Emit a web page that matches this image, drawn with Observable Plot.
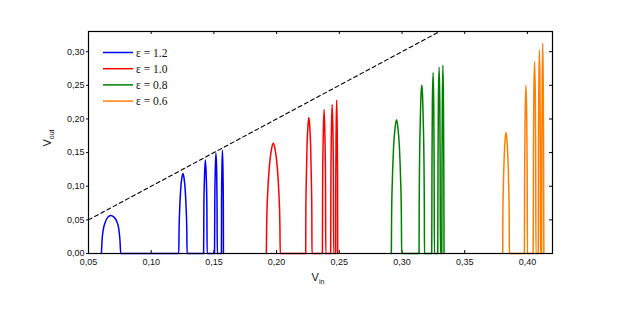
<!DOCTYPE html>
<html><head><meta charset="utf-8">
<script src="https://cdn.jsdelivr.net/npm/d3@7"></script>
<script src="https://cdn.jsdelivr.net/npm/@observablehq/plot@0.6"></script>
<style>body{margin:0;background:#fff} #chart{width:620px;height:310px}</style>
</head><body><div id="chart"></div>
<script>
const seriesLabels = ["ε = 1.2", "ε = 1.0", "ε = 0.8", "ε = 0.6"];
const seriesColors = ["#0000ff", "#ff0000", "#008000", "#ff8000"];

// v_in, v_out pairs
const eps12 = [
  [0.0603,0],[0.0608,0.0194],[0.0617,0.0343],[0.0633,0.0462],[0.0653,0.0537],[0.0677,0.0566],[0.0701,0.0544],[0.0725,0.0477],[0.0741,0.0373],[0.0751,0.0194],[0.0757,0],
  [0.1220,0],[0.1222,0.033],[0.1227,0.065],[0.1235,0.095],[0.1245,0.113],[0.1253,0.119],[0.1261,0.113],[0.1271,0.095],[0.1279,0.065],[0.1284,0.033],[0.1286,0],
  [0.1418,0],[0.1420,0.069],[0.1425,0.114],[0.1432,0.139],[0.1439,0.114],[0.1444,0.069],[0.1446,0],
  [0.1505,0],[0.1507,0.075],[0.1511,0.123],[0.1516,0.1495],[0.1522,0.123],[0.1525,0.075],[0.1527,0],
  [0.1560,0],[0.1561,0.077],[0.1564,0.126],[0.1568,0.1535],[0.1572,0.126],[0.1575,0.077],[0.1576,0]
];
const eps10 = [
  [0.1918,0],[0.1921,0.046],[0.1929,0.090],[0.1943,0.131],[0.1960,0.156],[0.1974,0.164],[0.1987,0.156],[0.2004,0.131],[0.2018,0.090],[0.2026,0.046],[0.2029,0],
  [0.2232,0],[0.2233,0.057],[0.2237,0.111],[0.2243,0.162],[0.2251,0.192],[0.2257,0.202],[0.2263,0.192],[0.2271,0.162],[0.2277,0.111],[0.2281,0.057],[0.2282,0],
  [0.2365,0],[0.2367,0.107],[0.2372,0.176],[0.2379,0.214],[0.2385,0.176],[0.2390,0.107],[0.2392,0],
  [0.2431,0],[0.2433,0.111],[0.2437,0.182],[0.2443,0.2216],[0.2449,0.182],[0.2453,0.111],[0.2455,0],
  [0.2471,0],[0.2472,0.114],[0.2475,0.187],[0.2479,0.228],[0.2483,0.187],[0.2486,0.114],[0.2487,0]
];
const eps08 = [
  [0.2915,0],[0.2917,0.056],[0.2923,0.109],[0.2933,0.159],[0.2946,0.189],[0.2957,0.199],[0.2966,0.189],[0.2979,0.159],[0.2989,0.109],[0.2995,0.056],[0.2997,0],
  [0.3136,0],[0.3137,0.070],[0.3140,0.1375],[0.3146,0.200],[0.3152,0.2375],[0.3158,0.250],[0.3163,0.2375],[0.3169,0.200],[0.3175,0.1375],[0.3178,0.070],[0.3179,0],
  [0.3237,0],[0.3239,0.135],[0.3242,0.221],[0.3248,0.269],[0.3253,0.221],[0.3256,0.135],[0.3258,0],
  [0.3285,0],[0.3287,0.138],[0.3290,0.227],[0.3296,0.277],[0.3301,0.227],[0.3304,0.138],[0.3306,0],
  [0.3317,0],[0.3319,0.140],[0.3322,0.230],[0.3326,0.280],[0.3330,0.230],[0.3333,0.140],[0.3335,0]
];
const eps06 = [
  [0.3803,0],[0.3804,0.050],[0.3808,0.099],[0.3815,0.144],[0.3823,0.171],[0.3830,0.180],[0.3836,0.171],[0.3844,0.144],[0.3851,0.099],[0.3855,0.050],[0.3856,0],
  [0.3976,0],[0.3978,0.125],[0.3982,0.205],[0.3988,0.250],[0.3994,0.205],[0.3998,0.125],[0.4000,0],
  [0.4046,0],[0.4048,0.143],[0.4051,0.234],[0.4057,0.285],[0.4063,0.234],[0.4066,0.143],[0.4068,0],
  [0.4087,0],[0.4088,0.151],[0.4091,0.248],[0.4096,0.3025],[0.4100,0.248],[0.4103,0.151],[0.4104,0],
  [0.4113,0],[0.4115,0.156],[0.4118,0.256],[0.4122,0.3125],[0.4126,0.256],[0.4129,0.156],[0.4131,0]
];
const identityLine = [0.05, 0.34];   // v_out = v_in reference line
const xTicks = [0.05, 0.10, 0.15, 0.20, 0.25, 0.30, 0.35, 0.40];
const yTicks = [0.00, 0.05, 0.10, 0.15, 0.20, 0.25, 0.30];

const allSeries = [eps12, eps10, eps08, eps06];
const rows = [];
allSeries.forEach((arr, i) => arr.forEach(([x, y]) => rows.push({x, y, s: seriesLabels[i]})));

const fmt = d => d.toFixed(2).replace(".", ",");

const W = 620, H = 310, mL = 88, mR = 68, mT = 31, mB = 57;
const frameW = W - mL - mR, frameH = H - mT - mB;

const plot = Plot.plot({
  width: W, height: H,
  marginLeft: mL, marginRight: mR, marginTop: mT, marginBottom: mB,
  style: {fontFamily: "'Liberation Sans', Arial, sans-serif", fontSize: "9px", color: "#111", background: "#fff"},
  x: {domain: [0.05, 0.42]},
  y: {domain: [0, 0.33]},
  color: {domain: seriesLabels, range: seriesColors},
  marks: [
    Plot.axisX({ticks: xTicks, tickFormat: fmt, tickSize: 0, tickPadding: 5, label: null}),
    Plot.axisY({ticks: yTicks, tickFormat: fmt, tickSize: 2, tickPadding: 2, label: null}),
    Plot.tickX(xTicks, {x: d => d, insetTop: frameH - 3, stroke: "#000"}),
    Plot.tickX(xTicks, {x: d => d, insetBottom: frameH - 3, stroke: "#000"}),
    Plot.tickY(yTicks, {y: d => d, insetLeft: frameW - 3, stroke: "#000"}),
    Plot.line(identityLine, {x: d => d, y: d => d, stroke: "#000", strokeWidth: 1.1, strokeDasharray: "4,3", clip: true}),
    Plot.line(rows, {x: "x", y: "y", z: "s", stroke: "s", strokeWidth: 1.5, curve: "monotone-x"}),
    Plot.frame({stroke: "#000", strokeWidth: 1.2})
  ]
});

const svg = d3.select(plot);
// axis titles
const yt = svg.append("text")
  .attr("transform", "translate(51,138) rotate(-90)")
  .attr("text-anchor", "middle")
  .attr("font-size", 11).attr("fill", "#111");
yt.append("tspan").text("V");
yt.append("tspan").attr("dy", 3).attr("font-size", 7).text("out");

const xt = svg.append("text")
  .attr("x", 318).attr("y", 281)
  .attr("text-anchor", "middle")
  .attr("font-size", 11).attr("fill", "#111");
xt.append("tspan").text("V");
xt.append("tspan").attr("dy", 3).attr("font-size", 7).text("in");

// legend
const lg = svg.append("g");
seriesLabels.forEach((lab, i) => {
  const y = 52.5 + i * 16.2;
  lg.append("line").attr("x1", 103).attr("x2", 133).attr("y1", y).attr("y2", y)
    .attr("stroke", seriesColors[i]).attr("stroke-width", 1.5);
  lg.append("text").attr("x", 136).attr("y", y + 4)
    .attr("text-anchor", "start")
    .attr("font-family", "'Liberation Serif', 'Times New Roman', serif")
    .attr("font-size", 11.5).attr("fill", "#111").text(lab);
});

document.getElementById("chart").appendChild(plot);
</script>
</body></html>
